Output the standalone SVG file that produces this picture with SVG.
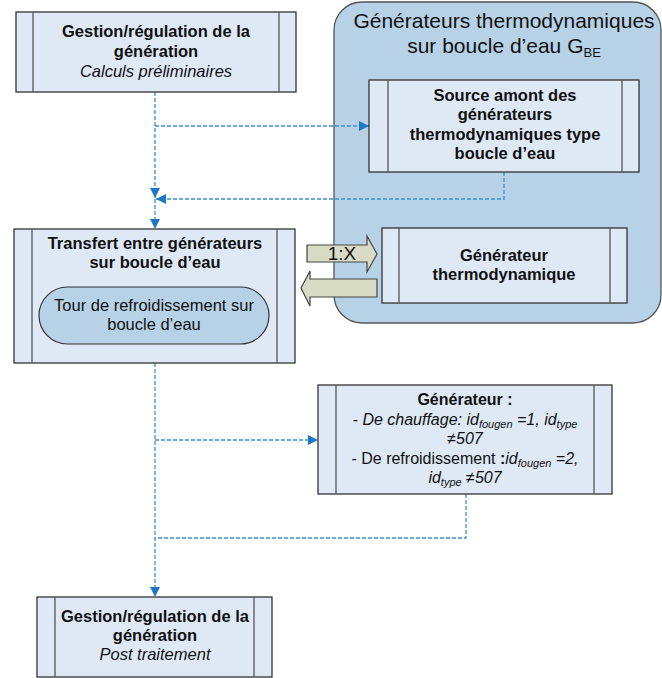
<svg xmlns="http://www.w3.org/2000/svg" width="662" height="678" viewBox="0 0 662 678">
<defs>
<marker id="ah" markerUnits="userSpaceOnUse" markerWidth="12" markerHeight="12" refX="10" refY="5" orient="auto">
<path d="M0,0 L10,5 L0,10 Z" fill="#1f78c1"/>
</marker>
<style>
.box{fill:#dfe9f5;stroke:#333;stroke-width:1.3}
.bar{stroke:#555;stroke-width:1.3}
.t{font-family:"Liberation Sans",Arial,sans-serif;font-size:16.5px;fill:#111;text-anchor:middle}
.s{font-size:16px}
.b{font-weight:bold}
.i{font-style:italic}
.con{fill:none;stroke:#3b90d4;stroke-width:1.3;stroke-dasharray:4 2}
.blk{fill:#d8dcc5;stroke:#444;stroke-width:1.2}
</style>
</defs>
<rect width="662" height="678" fill="#fff"/>

<g id="container">
<rect x="334" y="2" width="327" height="321" rx="28" ry="28" fill="#b7d2e6" stroke="#555" stroke-width="1.3"/>
<text class="t" x="504" y="28" style="font-size:21px">Générateurs thermodynamiques</text>
<text class="t" x="504" y="53" style="font-size:21px">sur boucle d’eau G<tspan dy="4" font-size="13">BE</tspan></text>
</g>

<g id="connectors">
<path class="con" d="M155,92 L155,198" marker-end="url(#ah)"/>
<path class="con" d="M155,126 L369,126" marker-end="url(#ah)"/>
<path class="con" d="M504,172 L504,199 L156,199" marker-end="url(#ah)"/>
<path class="con" d="M155,199 L155,229" marker-end="url(#ah)"/>
<path class="con" d="M155,363 L155,597" marker-end="url(#ah)"/>
<path class="con" d="M155,440 L318,440" marker-end="url(#ah)"/>
<path class="con" d="M466,494 L466,538 L155,538"/>
</g>

<g id="n-gestion-pre">
<rect class="box" x="16" y="12" width="280" height="80"/>
<line class="bar" x1="33" y1="12" x2="33" y2="92"/>
<line class="bar" x1="279" y1="12" x2="279" y2="92"/>
<text class="t b" x="156" y="37">Gestion/régulation de la</text>
<text class="t b" x="156" y="57">génération</text>
<text class="t i" x="156" y="77">Calculs préliminaires</text>
</g>

<g id="n-source">
<rect class="box" x="369" y="80" width="270" height="92"/>
<line class="bar" x1="388" y1="80" x2="388" y2="172"/>
<line class="bar" x1="622" y1="80" x2="622" y2="172"/>
<text class="t b" x="505" y="101">Source amont des</text>
<text class="t b" x="505" y="120">générateurs</text>
<text class="t b" x="505" y="140">thermodynamiques type</text>
<text class="t b" x="505" y="159">boucle d’eau</text>
</g>

<g id="n-transfert">
<rect class="box" x="14" y="229" width="281" height="134"/>
<line class="bar" x1="32" y1="229" x2="32" y2="363"/>
<line class="bar" x1="277" y1="229" x2="277" y2="363"/>
<text class="t b" x="155" y="249">Transfert entre générateurs</text>
<text class="t b" x="155" y="268">sur boucle d’eau</text>
<rect x="39" y="287" width="230" height="57" rx="28.5" ry="28.5" fill="#b7d2e6" stroke="#333" stroke-width="1.2"/>
<text class="t" x="154" y="311">Tour de refroidissement sur</text>
<text class="t" x="154" y="330">boucle d’eau</text>
</g>

<g id="n-arrows">
<polygon class="blk" points="307,245 367,245 367,236 377,254 367,272 367,262 307,262"/>
<text class="t" x="342" y="260" style="font-size:19px">1:X</text>
<polygon class="blk" points="377,279 310,279 310,271 301,288 310,306 310,297 377,297"/>
</g>

<g id="n-gen-thermo">
<rect class="box" x="382" y="228" width="245" height="75"/>
<line class="bar" x1="399" y1="228" x2="399" y2="303"/>
<line class="bar" x1="610" y1="228" x2="610" y2="303"/>
<text class="t b" x="504" y="261">Générateur</text>
<text class="t b" x="504" y="280">thermodynamique</text>
</g>

<g id="n-generateur">
<rect class="box" x="318" y="385" width="294" height="109"/>
<line class="bar" x1="336" y1="385" x2="336" y2="494"/>
<line class="bar" x1="594" y1="385" x2="594" y2="494"/>
<text class="t s b" x="465" y="405">Générateur :</text>
<text class="t s i" x="465" y="425">- De chauffage: id<tspan dy="3" font-size="11">fougen</tspan><tspan dy="-3"> =1, id</tspan><tspan dy="3" font-size="11">type</tspan></text>
<text class="t s i" x="465" y="444">≠507</text>
<text class="t s" x="465" y="464">- De refroidissement <tspan class="b">:</tspan><tspan class="i">id</tspan><tspan class="i" dy="3" font-size="11">fougen</tspan><tspan class="i" dy="-3"> =2,</tspan></text>
<text class="t s i" x="465" y="483">id<tspan dy="3" font-size="11">type</tspan><tspan dy="-3"> ≠507</tspan></text>
</g>

<g id="n-gestion-post">
<rect class="box" x="37" y="597" width="235" height="80"/>
<line class="bar" x1="55" y1="597" x2="55" y2="677"/>
<line class="bar" x1="254" y1="597" x2="254" y2="677"/>
<text class="t b" x="155" y="622">Gestion/régulation de la</text>
<text class="t b" x="155" y="641">génération</text>
<text class="t i" x="155" y="660">Post traitement</text>
</g>
</svg>
